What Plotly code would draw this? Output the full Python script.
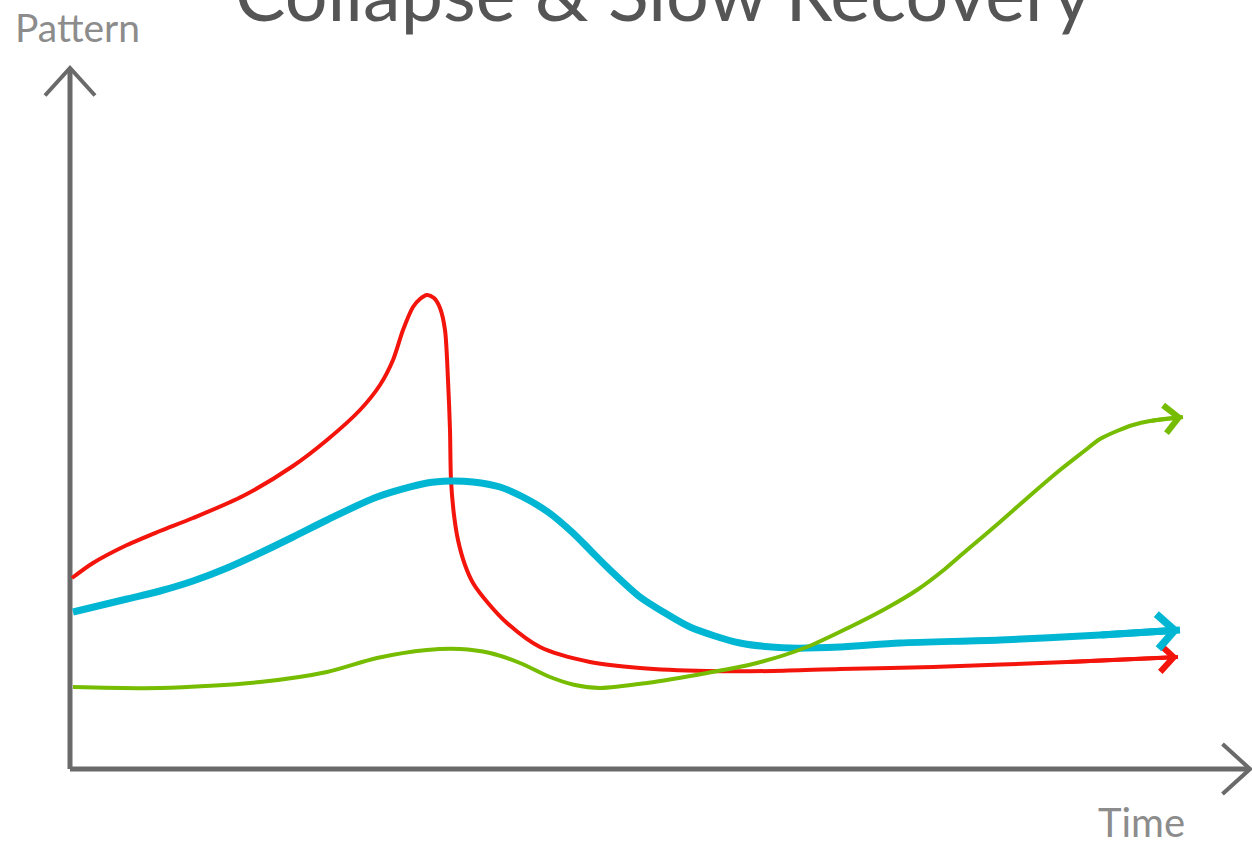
import plotly.graph_objects as go

# Data (time units on x, pattern level on y)
red_x = [0.02, 0.23, 0.57, 0.90, 1.23, 1.73, 2.23, 2.57, 2.90, 3.10, 3.23, 3.33, 3.43, 3.50, 3.57, 3.64,
         3.70, 3.75, 3.78, 3.80, 3.81, 3.84, 3.88, 3.95, 4.03, 4.18, 4.37, 4.70, 5.20, 5.70, 6.37, 7.03,
         7.70, 8.63, 9.97, 11.08]
red_y = [1.91, 2.06, 2.24, 2.38, 2.51, 2.73, 3.03, 3.29, 3.59, 3.84, 4.09, 4.39, 4.62, 4.70, 4.74, 4.71,
         4.61, 4.39, 3.89, 3.39, 2.89, 2.54, 2.29, 2.04, 1.86, 1.66, 1.46, 1.22, 1.07, 1.01, 0.98, 0.98,
         1.00, 1.02, 1.07, 1.12]

cyan_x = [0.03, 0.57, 0.90, 1.23, 1.57, 1.90, 2.23, 2.57, 3.07, 3.57, 3.80, 4.03, 4.30, 4.53, 4.78, 5.03,
          5.20, 5.37, 5.70, 5.95, 6.20, 6.70, 7.20, 7.70, 8.30, 9.30, 10.30, 11.10]
cyan_y = [1.57, 1.70, 1.78, 1.88, 2.01, 2.16, 2.32, 2.49, 2.72, 2.86, 2.88, 2.87, 2.82, 2.72, 2.57, 2.36,
          2.19, 2.02, 1.72, 1.56, 1.42, 1.26, 1.21, 1.22, 1.26, 1.29, 1.34, 1.39]

green_x = [0.03, 0.90, 1.90, 2.57, 3.07, 3.57, 3.90, 4.20, 4.50, 4.80, 5.05, 5.30, 5.77, 6.37, 6.87, 7.37,
           7.80, 8.15, 8.47, 8.75, 8.97, 9.30, 9.63, 9.90, 10.13, 10.30, 10.47, 10.63, 10.80, 11.13]
green_y = [0.82, 0.81, 0.87, 0.97, 1.11, 1.19, 1.20, 1.16, 1.06, 0.92, 0.84, 0.81, 0.86, 0.96, 1.06, 1.22,
           1.42, 1.60, 1.79, 2.00, 2.19, 2.47, 2.76, 2.99, 3.17, 3.30, 3.38, 3.44, 3.48, 3.52]

title_text = "Collapse & Slow Recovery"
y_label = "Pattern"
x_label = "Time"

RED = "#f3140c"
CYAN = "#00b6d2"
GREEN = "#76bc00"
AXIS = "#6a6a6a"

# axis geometry (data units)
X_END = 11.8
Y_END = 7.01
HEAD = 0.25

series = [
    (red_x, red_y, RED, 4, 1.35),
    (cyan_x, cyan_y, CYAN, 7, 0.95),
    (green_x, green_y, GREEN, 4, 1.35),
]

fig = go.Figure()
annotations = []
for xs, ys, col, w, asz in series:
    fig.add_trace(go.Scatter(x=xs, y=ys, mode="lines",
                             line=dict(color=col, width=w, shape="spline", smoothing=0.8),
                             hoverinfo="skip", showlegend=False))
    annotations.append(dict(x=xs[-1], y=ys[-1], ax=xs[-2], ay=ys[-2], xref="x", yref="y",
                            axref="x", ayref="y", text="", showarrow=True, arrowhead=4,
                            arrowsize=asz, arrowwidth=w, arrowcolor=col, standoff=0))

shapes = [
    dict(type="line", x0=0, y0=0, x1=0, y1=Y_END, xref="x", yref="y",
         line=dict(color=AXIS, width=5), layer="below"),
    dict(type="line", x0=0, y0=0, x1=X_END, y1=0, xref="x", yref="y",
         line=dict(color=AXIS, width=5), layer="below"),
    dict(type="path", xref="x", yref="y", layer="below",
         path=f"M{-HEAD},{Y_END - HEAD * 1.1} L0,{Y_END} L{HEAD},{Y_END - HEAD * 1.1}",
         line=dict(color=AXIS, width=4)),
    dict(type="path", xref="x", yref="y", layer="below",
         path=f"M{X_END - HEAD * 1.1},{HEAD} L{X_END},0 L{X_END - HEAD * 1.1},{-HEAD}",
         line=dict(color=AXIS, width=4)),
]

annotations.append(dict(x=663 / 1252, y=0.954, xref="paper", yref="paper", text=title_text,
                        showarrow=False, font=dict(family="Lato", size=75.5, color="#555555"),
                        xanchor="center", yanchor="bottom"))
annotations.append(dict(x=77 / 1252, y=1 - 27 / 845, xref="paper", yref="paper", text=y_label,
                        showarrow=False, font=dict(family="Lato", size=39, color="#8c8c8c"),
                        xanchor="center", yanchor="middle"))
annotations.append(dict(x=1141 / 1252, y=1 - 822 / 845, xref="paper", yref="paper", text=x_label,
                        showarrow=False, font=dict(family="Lato", size=40, color="#8c8c8c"),
                        xanchor="center", yanchor="middle"))

fig.update_layout(
    width=1252, height=845,
    margin=dict(l=0, r=0, t=0, b=0),
    paper_bgcolor="white", plot_bgcolor="white",
    xaxis=dict(range=[-0.70, 11.82], visible=False, fixedrange=True),
    yaxis=dict(range=[-0.76, 7.69], visible=False, fixedrange=True),
    annotations=annotations,
    shapes=shapes,
)

fig.write_html("out.html", config={"displayModeBar": False},
               post_script="document.body.style.margin='0';")
